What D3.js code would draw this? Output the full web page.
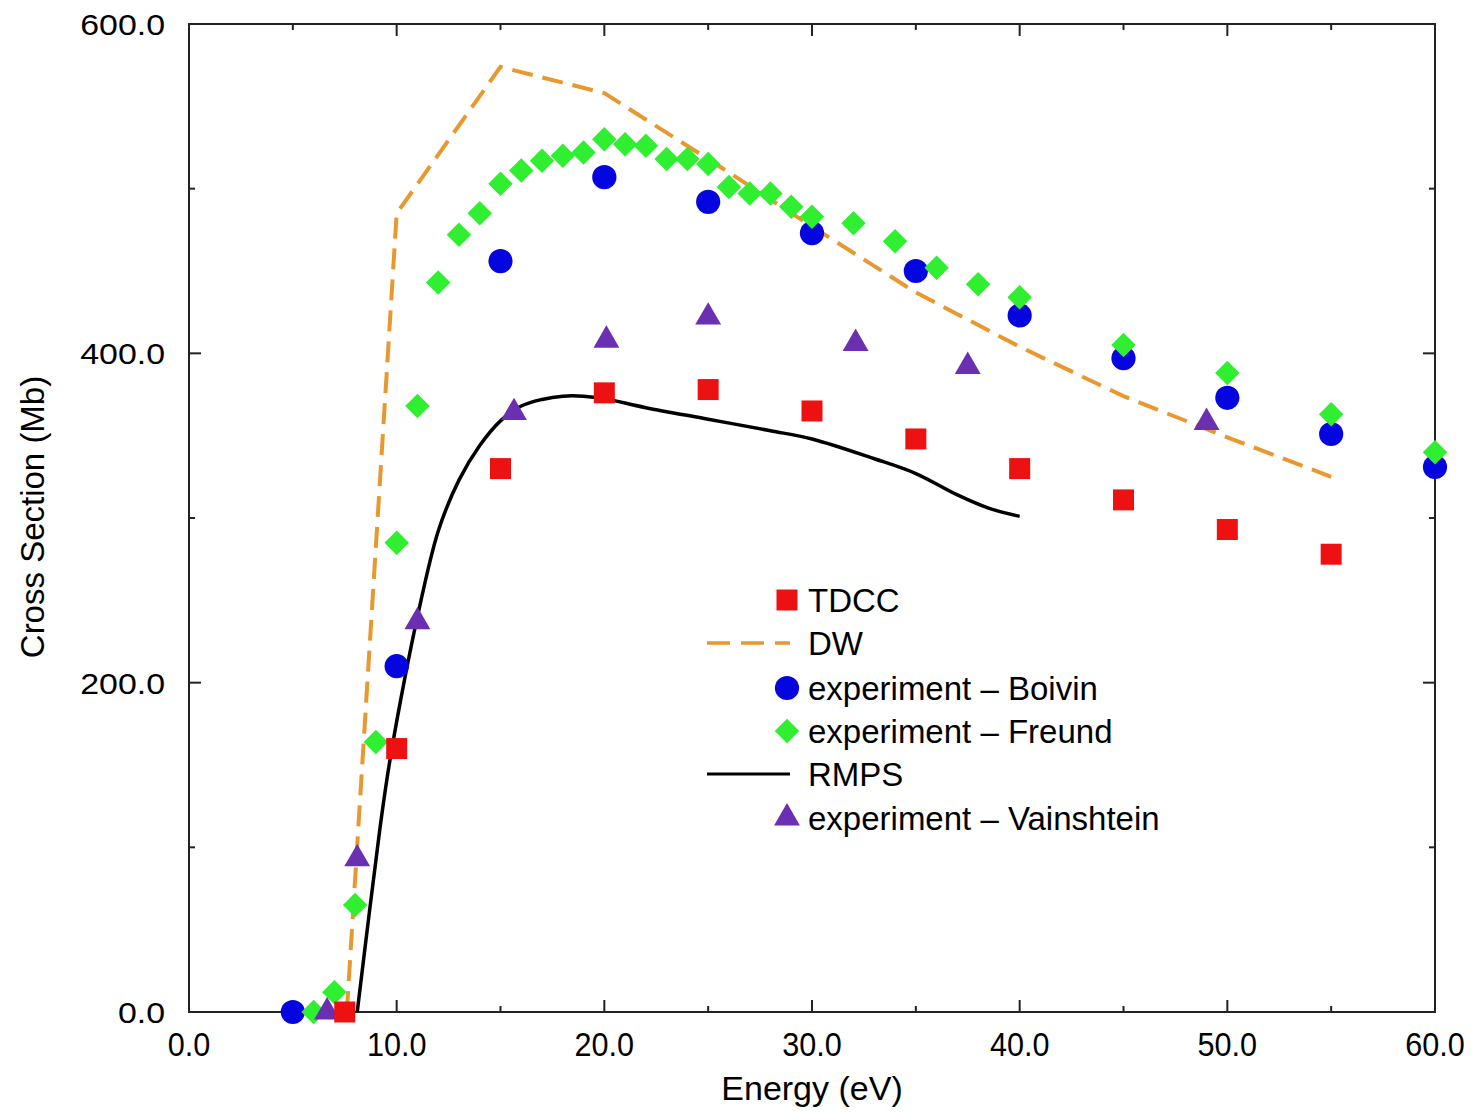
<!DOCTYPE html>
<html>
  <head>
    <meta charset="utf-8">
    <title>Cross Section</title>
    <style type="text/css">
body {
  margin: 0;
  background-color: white;
}
text {
  font-family: "Liberation Sans", Arial, sans-serif;
  fill: black;
}
    </style>
    <script type="text/javascript" src="https://cdn.jsdelivr.net/npm/d3@7"></script>
  </head>
  <body>
    <div id="chart"></div>
    <script type="text/javascript">
      // Data: [energy (eV), cross section (Mb)]
      var tdcc = [[7.5, 0], [10, 160], [15, 330], [20, 376], [25, 378], [30, 365],
                  [35, 348], [40, 330], [45, 311], [50, 293], [55, 278]];
      var dw = [[7.6, 0], [10, 485], [15, 574], [20, 558], [25, 518], [30, 477],
                [35, 437], [40, 404], [45, 374], [50, 349], [55, 325]];
      var boivin = [[5, 0], [10, 210], [15, 456], [20, 507], [25, 492], [30, 473],
                    [35, 450], [40, 423], [45, 397], [50, 373], [55, 351], [60, 331]];
      var freund = [[6, 0], [7, 12], [8, 65], [9, 164], [10, 285], [11, 368], [12, 443],
                    [13, 472], [14, 485], [15, 503], [16, 511], [17, 517], [18, 520],
                    [19, 522], [20, 530], [21, 527], [22, 526], [23, 518], [24, 518],
                    [25, 515], [26, 501], [27, 497], [28, 497], [29, 489], [30, 483],
                    [32, 479], [34, 468], [36, 452], [38, 442], [40, 434], [45, 405],
                    [50, 388], [55, 363], [60, 340]];
      var rmps = [[8.1, 0], [8.7, 62], [9.2, 112], [9.6, 147], [10.2, 190], [11, 240],
                  [12, 292], [13, 323], [14, 344], [15, 359], [16, 368],
                  [17, 372], [18, 374], [19, 374], [20, 372.5], [22, 367], [25, 360],
                  [28, 353], [30, 348], [33, 336], [35, 327], [37, 314], [38.5, 306],
                  [40, 301]];
      var vainshtein = [[6.65, 0], [8.1, 93], [11, 237], [15.65, 364], [20.1, 408],
                        [25, 422], [32.1, 406], [37.5, 392], [49, 358]];

      var xTicks = [0, 10, 20, 30, 40, 50, 60];
      var xMinor = [5, 15, 25, 35, 45, 55];
      var yTicks = [0, 200, 400, 600];
      var yMinor = [100, 300, 500];

      var legendLabels = ["TDCC", "DW", "experiment \u2013 Boivin", "experiment \u2013 Freund",
                          "RMPS", "experiment \u2013 Vainshtein"];

      // Constants
      var w = 1475, h = 1112;
      var plotL = 189, plotR = 1435, plotT = 24, plotB = 1012;

      var red = "#ee1111", orange = "#e8982f", blue = "#0505e0",
          green = "#30ee30", purple = "#6b2fb2";

      var x = d3.scaleLinear().domain([0, 60]).range([plotL, plotR]);
      var y = d3.scaleLinear().domain([0, 600]).range([plotB, plotT]);

      var svg = d3.select("#chart").append("svg")
           .attr("width", w)
           .attr("height", h);

      // frame
      svg.append("rect")
           .attr("x", plotL).attr("y", plotT)
           .attr("width", plotR - plotL).attr("height", plotB - plotT)
           .attr("fill", "none")
           .attr("stroke", "#222")
           .attr("stroke-width", 2);

      // inward ticks on all four sides
      function tickAxesX(values, len) {
        svg.selectAll(null).data(values).enter().append("line")
             .attr("x1", function(d) { return x(d); }).attr("x2", function(d) { return x(d); })
             .attr("y1", plotB).attr("y2", plotB - len)
             .attr("stroke", "#222").attr("stroke-width", 2);
        svg.selectAll(null).data(values).enter().append("line")
             .attr("x1", function(d) { return x(d); }).attr("x2", function(d) { return x(d); })
             .attr("y1", plotT).attr("y2", plotT + len)
             .attr("stroke", "#222").attr("stroke-width", 2);
      }
      function tickAxesY(values, len) {
        svg.selectAll(null).data(values).enter().append("line")
             .attr("y1", function(d) { return y(d); }).attr("y2", function(d) { return y(d); })
             .attr("x1", plotL).attr("x2", plotL + len)
             .attr("stroke", "#222").attr("stroke-width", 2);
        svg.selectAll(null).data(values).enter().append("line")
             .attr("y1", function(d) { return y(d); }).attr("y2", function(d) { return y(d); })
             .attr("x1", plotR).attr("x2", plotR - len)
             .attr("stroke", "#222").attr("stroke-width", 2);
      }
      tickAxesX(xTicks, 12);
      tickAxesX(xMinor, 6);
      tickAxesY(yTicks, 12);
      tickAxesY(yMinor, 6);

      // tick labels
      svg.selectAll(".xlab").data(xTicks).enter().append("text")
           .attr("class", "xlab")
           .attr("text-anchor", "middle")
           .attr("font-size", 34)
           .attr("transform", function(d) { return "translate(" + x(d) + ",1056) scale(0.9,1)"; })
           .text(function(d) { return d.toFixed(1); });

      svg.selectAll(".ylab").data(yTicks).enter().append("text")
           .attr("class", "ylab")
           .attr("text-anchor", "end")
           .attr("font-size", 30)
           .attr("transform", function(d) { return "translate(165," + (y(d) + 11) + ") scale(1.13,1)"; })
           .text(function(d) { return d.toFixed(1); });

      // axis titles
      svg.append("text")
           .attr("x", 812)
           .attr("y", 1100)
           .attr("text-anchor", "middle")
           .attr("font-size", 34)
           .text("Energy (eV)");
      svg.append("text")
           .attr("transform", "translate(44,517) rotate(-90)")
           .attr("text-anchor", "middle")
           .attr("font-size", 33)
           .text("Cross Section (Mb)");

      // lines
      var line = d3.line()
           .x(function(d) { return x(d[0]); })
           .y(function(d) { return y(d[1]); });

      svg.append("path")
           .datum(dw)
           .attr("d", line)
           .attr("fill", "none")
           .attr("stroke", orange)
           .attr("stroke-width", 4)
           .attr("stroke-dasharray", "21,10");

      svg.append("path")
           .datum(rmps)
           .attr("d", line.curve(d3.curveCatmullRom.alpha(0.5)))
           .attr("fill", "none")
           .attr("stroke", "black")
           .attr("stroke-width", 3.5);

      // markers
      var squareSym = d3.symbol().type(d3.symbolSquare).size(441);
      var circleSym = d3.symbol().type(d3.symbolCircle).size(460);
      var diamondSym = d3.symbol().type(d3.symbolSquare).size(300);
      var triSym = d3.symbol().type(d3.symbolTriangle).size(290);

      function drawPoints(data, sym, colour, rot) {
        svg.append("g").selectAll("path").data(data).enter().append("path")
             .attr("d", sym)
             .attr("fill", colour)
             .attr("transform", function(d) {
               return "translate(" + x(d[0]) + "," + y(d[1]) + ")" + (rot ? " rotate(45)" : "");
             });
      }
      drawPoints(boivin, circleSym, blue, false);
      drawPoints(freund, diamondSym, green, true);
      drawPoints(vainshtein, triSym, purple, false);
      drawPoints(tdcc, squareSym, red, false);

      // legend
      var legendY = [600, 643, 688, 731, 774, 818];
      var lg = svg.append("g");
      lg.selectAll("text").data(legendLabels).enter().append("text")
           .attr("x", 808)
           .attr("y", function(d, i) { return legendY[i] + 12; })
           .attr("font-size", 33)
           .text(function(d) { return d; });

      lg.append("path").attr("d", squareSym)
           .attr("fill", red).attr("transform", "translate(787," + legendY[0] + ")");
      lg.append("line").attr("x1", 707).attr("x2", 790)
           .attr("y1", legendY[1]).attr("y2", legendY[1])
           .attr("stroke", orange).attr("stroke-width", 3.5)
           .attr("stroke-dasharray", "23,11");
      lg.append("path").attr("d", circleSym)
           .attr("fill", blue).attr("transform", "translate(787," + legendY[2] + ")");
      lg.append("path").attr("d", diamondSym)
           .attr("fill", green).attr("transform", "translate(787," + legendY[3] + ") rotate(45)");
      lg.append("line").attr("x1", 707).attr("x2", 790)
           .attr("y1", legendY[4]).attr("y2", legendY[4])
           .attr("stroke", "black").attr("stroke-width", 3);
      lg.append("path").attr("d", triSym)
           .attr("fill", purple).attr("transform", "translate(787," + legendY[5] + ")");
    </script>
  </body>
</html>
